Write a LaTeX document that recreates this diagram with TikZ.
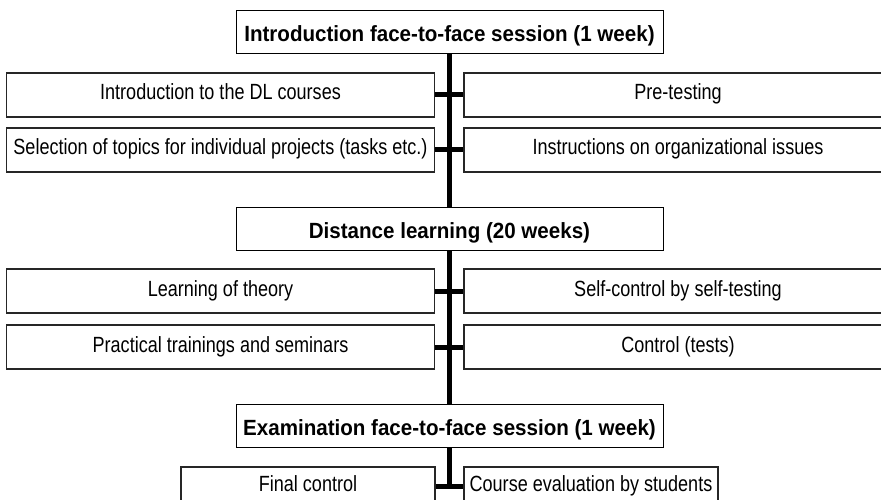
\documentclass[tikz,border=0pt]{standalone}
\usepackage{fontspec}
\setmainfont{Liberation Sans}
\newfontfamily\boxfont{Liberation Sans}[FakeStretch=0.82]
\newfontfamily\headfont{Liberation Sans}[FakeStretch=0.935]
\usetikzlibrary{calc,positioning}

\begin{document}
\begin{tikzpicture}[x=1pt, y=-1pt, line join=miter,
    head/.style={draw, line width=1pt, minimum width=427pt, minimum height=43pt,
      inner sep=0pt, text height=20pt, text depth=2pt,
      font=\headfont\bfseries\fontsize{22}{26}\selectfont},
    item/.style={draw=black!85, line width=1.3pt, minimum width=428pt, minimum height=44pt,
      inner sep=0pt, text height=16pt, text depth=6pt,
      font=\boxfont\fontsize{22}{26}\selectfont},
    spine/.style={line width=5pt}]
    \path[use as bounding box] (0,0) rectangle (881,500);
    \clip (0,0) rectangle (881,500);

    % sessions
    \node[head] (intro) at (449.5, 32.5) {Introduction face-to-face session (1 week)};
    \node[head] (dist) at (449.5, 229) {Distance learning (20 weeks)};
    \node[head] (exam) at (449.5, 426) {Examination face-to-face session (1 week)};

    % activities
    \node[item] (dlintro) at (220.5, 95) {Introduction to the DL courses};
    \node[item] (pretest) at (678, 95) {Pre-testing};
    \node[item] (topics) at (220.5, 150) {Selection of topics for individual projects (tasks etc.)};
    \node[item] (issues) at (678, 150) {Instructions on organizational issues};
    \node[item] (theory) at (220.5, 291) {Learning of theory};
    \node[item] (selftest) at (678, 291) {Self-control by self-testing};
    \node[item] (practice) at (220.5, 347) {Practical trainings and seminars};
    \node[item] (tests) at (678, 347) {Control (tests)};
    \node[item, minimum width=254pt, minimum height=38pt] (final) at (308, 486) {Final control};
    \node[item, minimum width=254pt, minimum height=38pt] (evaluation) at (591, 486) {Course evaluation by students};

    % spine and ticks
    \coordinate (last) at (exam.south |- final.east);
    \draw[spine] (intro.south) -- (dist.north);
    \draw[spine] (dist.south) -- (exam.north);
    \draw[spine] (exam.south) -- (last);
    \draw[spine] (dlintro.east) -- (pretest.west);
    \draw[spine] (topics.east) -- (issues.west);
    \draw[spine] (theory.east) -- (selftest.west);
    \draw[spine] (practice.east) -- (tests.west);
    \draw[spine] (final.east) -- (evaluation.west);
  \end{tikzpicture}
\end{document}
